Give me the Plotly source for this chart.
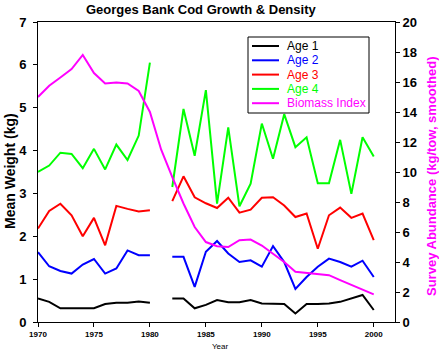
import plotly.graph_objects as go

years = list(range(1970, 2001))

age1 = [0.55, 0.47, 0.32, 0.32, 0.32, 0.32, 0.42, 0.45, 0.45, 0.48, 0.45,
        None,
        0.55, 0.55, 0.32, 0.40, 0.51, 0.46, 0.46, 0.51, 0.43, 0.43,
        0.42, 0.20, 0.42, 0.42, 0.43, 0.47, 0.55, 0.63, 0.28]
age2 = [1.63, 1.30, 1.19, 1.13, 1.34, 1.47, 1.13, 1.25, 1.67, 1.56, 1.56,
        None,
        1.52, 1.52, 0.82, 1.64, 1.89, 1.60, 1.40, 1.44, 1.29, 1.77,
        1.40, 0.77, 1.05, 1.29, 1.48, 1.40, 1.29, 1.43, 1.05]
age3 = [2.18, 2.59, 2.76, 2.49, 2.00, 2.43, 1.79, 2.71, 2.64, 2.58, 2.61,
        None,
        2.82, 3.40, 2.91, 2.77, 2.66, 2.90, 2.55, 2.62, 2.90, 2.91,
        2.72, 2.45, 2.53, 1.71, 2.49, 2.67, 2.43, 2.53, 1.91]
age4 = [3.50, 3.65, 3.95, 3.92, 3.59, 4.04, 3.56, 4.14, 3.78, 4.35, 6.05,
        None,
        3.15, 4.97, 3.88, 5.41, 2.76, 4.54, 2.70, 3.23, 4.63, 3.81,
        4.85, 4.08, 4.31, 3.24, 3.24, 4.25, 2.99, 4.31, 3.86]
biomass = [15.0, 15.75, 16.3, 16.86, 17.8, 16.6, 15.9, 15.97, 15.9, 15.4, 14.0,
           11.5, 9.66, 7.9, 6.33, 5.33, 5.05, 5.0, 5.45, 5.5, 5.1,
           4.56, 4.0, 3.35, 3.28, 3.23, 3.12, 2.79, 2.46, 2.13, 1.84]

names = ["Age 1", "Age 2", "Age 3", "Age 4", "Biomass Index"]
colors = ["#000000", "#0000FF", "#FF0000", "#00FF00", "#FF00FF"]
series = [age1, age2, age3, age4]

FONT = "Liberation Sans, Arial, sans-serif"
W, H = 439, 354
L, R, T, B = 38, 395, 22, 322

fig = go.Figure()
for name, col, vals in zip(names[:4], colors[:4], series):
    fig.add_trace(go.Scatter(x=years, y=vals, mode="lines", name=name,
                             line=dict(color=col, width=2), connectgaps=False,
                             showlegend=False))
fig.add_trace(go.Scatter(x=years, y=biomass, mode="lines", name=names[4],
                         line=dict(color=colors[4], width=2), yaxis="y2",
                         showlegend=False))

def px(x):
    return (x - L) / (R - L)

def py(y):
    return (B - y) / (B - T)

shapes = []
annotations = []
# legend box
lx0, ly0, lx1, ly1 = 248, 37, 369, 113
shapes.append(dict(type="rect", xref="paper", yref="paper",
                   x0=px(lx0), x1=px(lx1), y0=py(ly1), y1=py(ly0),
                   line=dict(color="black", width=1), fillcolor="white", layer="above"))
for i, (name, col) in enumerate(zip(names, colors)):
    yy = 46 + i * 14.3
    shapes.append(dict(type="line", xref="paper", yref="paper",
                       x0=px(252), x1=px(279), y0=py(yy), y1=py(yy),
                       line=dict(color=col, width=2), layer="above"))
    annotations.append(dict(text=name, xref="paper", yref="paper",
                            x=px(285), y=py(yy), xanchor="left", yanchor="middle",
                            showarrow=False, font=dict(family=FONT, size=12, color=col)))

annotations.append(dict(text="Mean Weight (kg)", xref="paper", yref="paper",
                        x=px(10), y=py(171), textangle=-90, showarrow=False,
                        xanchor="center", yanchor="middle",
                        font=dict(family=FONT, size=14, color="black", weight="bold")))
annotations.append(dict(text="Survey Abundance (kg/tow, smoothed)", xref="paper", yref="paper",
                        x=px(431), y=py(176), textangle=-90, showarrow=False,
                        xanchor="center", yanchor="middle",
                        font=dict(family=FONT, size=13, color="#FF00FF", weight="bold")))
annotations.append(dict(text="Year", xref="paper", yref="paper",
                        x=px(221), y=py(346), showarrow=False,
                        xanchor="center", yanchor="middle",
                        font=dict(family=FONT, size=8, color="black")))
annotations.append(dict(text="Georges Bank Cod Growth & Density", xref="paper", yref="paper",
                        x=px(201), y=py(10), showarrow=False,
                        xanchor="center", yanchor="middle",
                        font=dict(family=FONT, size=13, color="black", weight="bold")))

fig.update_layout(
    width=W, height=H,
    margin=dict(l=L, r=W - R, t=T, b=H - B, pad=0),
    paper_bgcolor="white", plot_bgcolor="white",
    showlegend=False,
    shapes=shapes, annotations=annotations,
    xaxis=dict(range=[1970, 2001.9], tickvals=[1970, 1975, 1980, 1985, 1990, 1995, 2000],
               showline=True, linecolor="black", linewidth=1, mirror=True,
               ticks="outside", ticklen=4, tickcolor="black", showgrid=False, zeroline=False,
               tickfont=dict(family=FONT, size=8, color="black", weight="bold")),
    yaxis=dict(range=[0, 7], dtick=1, showline=True, linecolor="black", linewidth=1,
               ticks="outside", ticklen=4, tickcolor="black", showgrid=False, zeroline=False,
               ticklabelstandoff=4,
               tickfont=dict(family=FONT, size=13, color="black", weight="bold")),
    yaxis2=dict(range=[0, 20], dtick=2, overlaying="y", side="right", showline=True,
                linecolor="black", linewidth=1, ticks="outside", ticklen=4,
                tickcolor="black", showgrid=False, zeroline=False,
                tickfont=dict(family=FONT, size=13, color="black", weight="bold")),
)

fig.write_html("out.html")
